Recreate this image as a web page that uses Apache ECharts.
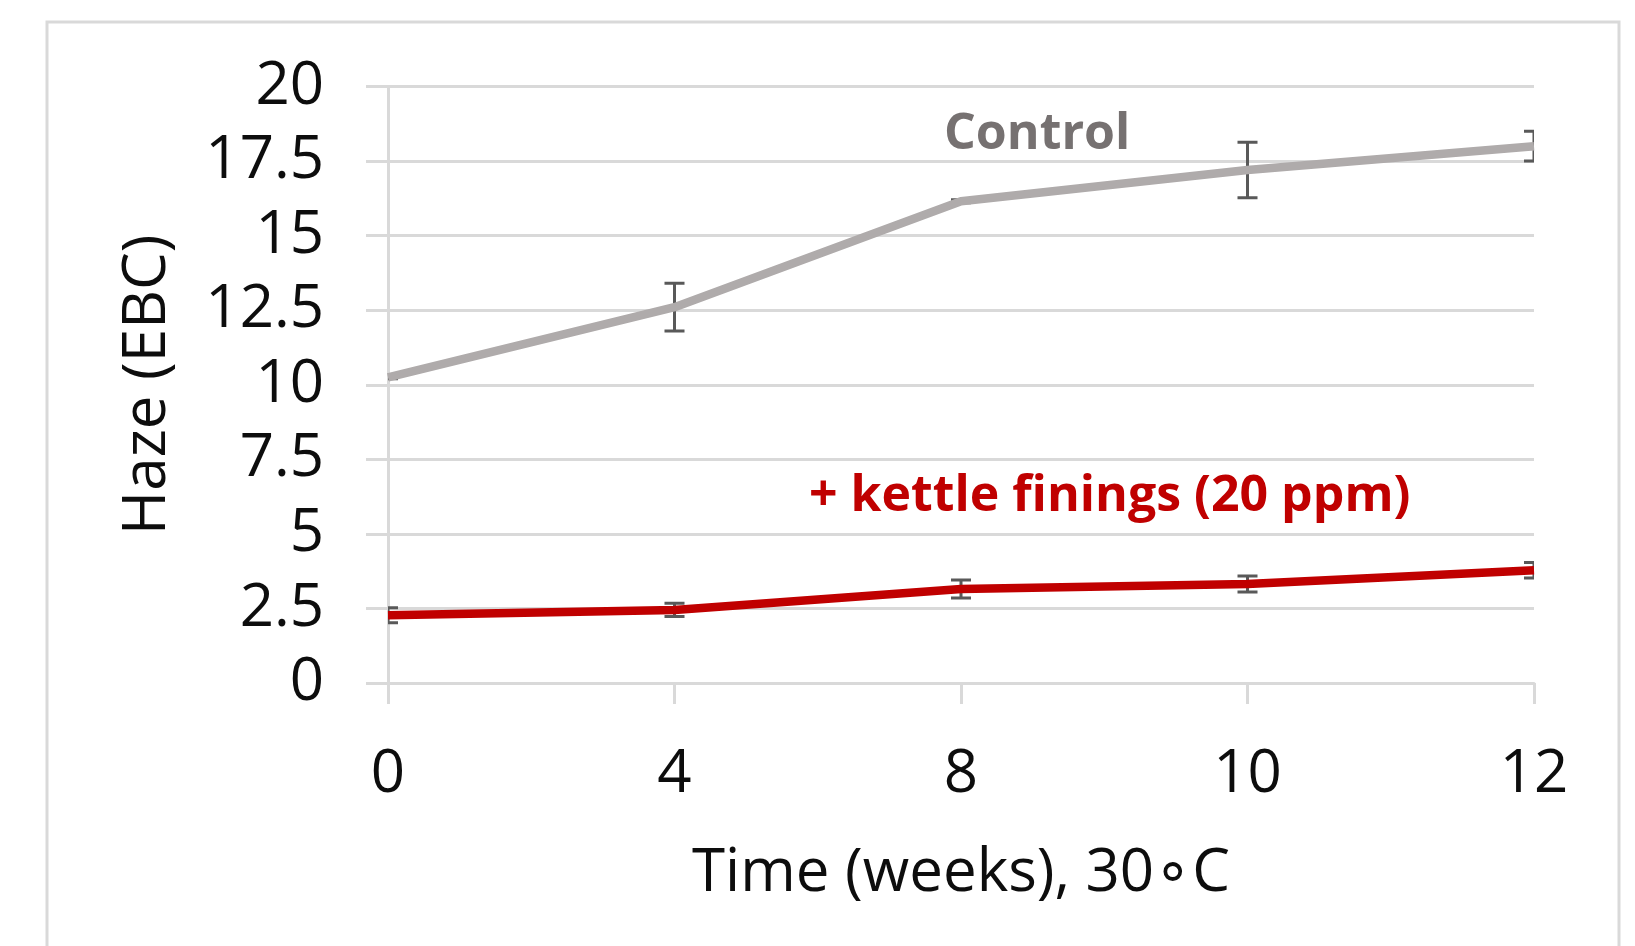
<!DOCTYPE html>
<html>
<head>
<meta charset="utf-8">
<script src="https://cdn.jsdelivr.net/npm/echarts@6/dist/echarts.min.js"></script>
<style>
  html, body { margin: 0; padding: 0; background: #fff; }
  #chart { width: 1635px; height: 946px; }
</style>
</head>
<body>
<div id="chart"></div>
<script>
// weeks at 30 °C
const weeks = ['0', '4', '8', '10', '12']
// haze values (EBC)
const controlHaze = [10.25, 12.6, 16.15, 17.2, 18.0]
const finingsHaze = [2.27, 2.45, 3.15, 3.32, 3.78]
// +/- error
const controlErr = [0.05, 0.8, 0.05, 0.93, 0.5]
const finingsErr = [0.25, 0.22, 0.3, 0.27, 0.26]

const font = 'Open Sans'
const gridColor = '#d9d9d9'

const toBars = (vals, errs) => vals.map((v, i) => [i, v - errs[i], v + errs[i]])

function errorBars(params, api) {
  const low = api.coord([api.value(0), api.value(1)])
  const high = api.coord([api.value(0), api.value(2)])
  const hw = 10
  const style = { stroke: '#595959', lineWidth: 3 }
  return {
    type: 'group',
    children: [
      { type: 'line', shape: { x1: low[0], y1: low[1], x2: high[0], y2: high[1] }, style },
      { type: 'line', shape: { x1: low[0] - hw, y1: low[1], x2: low[0] + hw, y2: low[1] }, style },
      { type: 'line', shape: { x1: high[0] - hw, y1: high[1], x2: high[0] + hw, y2: high[1] }, style }
    ]
  }
}

const myChart = echarts.init(document.getElementById('chart'))
const option = {
  animation: false,
  textStyle: { fontFamily: font },
  grid: {
    left: 388,
    right: 101,
    top: 86.5,
    bottom: 263
  },
  xAxis: {
    type: 'category',
    data: weeks,
    boundaryGap: false,
    name: 'Time (weeks), 30∘C',
    nameLocation: 'middle',
    nameGap: 161,
    nameTextStyle: { fontSize: 60, color: '#0d0d0d', fontFamily: font, lineHeight: 60 },
    axisLine: { lineStyle: { color: gridColor, width: 3 } },
    axisTick: { show: true, length: 21, lineStyle: { color: gridColor, width: 3 } },
    axisLabel: { margin: 62, fontSize: 60, color: '#0d0d0d', fontFamily: font, lineHeight: 60 },
    splitLine: { show: false }
  },
  yAxis: {
    type: 'value',
    min: 0,
    max: 20,
    interval: 2.5,
    name: 'Haze (EBC)',
    nameLocation: 'middle',
    nameGap: 210,
    nameTextStyle: { fontSize: 60, color: '#0d0d0d', fontFamily: font, lineHeight: 60 },
    axisLine: { show: true, lineStyle: { color: gridColor, width: 3 } },
    axisTick: { show: true, length: 22, lineStyle: { color: gridColor, width: 3 } },
    axisLabel: { margin: 64, fontSize: 60, color: '#0d0d0d', fontFamily: font },
    splitLine: { lineStyle: { color: gridColor, width: 3 } }
  },
  graphic: [
    {
      type: 'rect',
      shape: { x: 47, y: 22, width: 1572, height: 960 },
      style: { fill: 'none', stroke: gridColor, lineWidth: 3 },
      silent: true
    },
    {
      type: 'text',
      left: 944,
      top: 110,
      style: { text: 'Control', font: 'bold 50px "Open Sans"', fill: '#767171' }
    },
    {
      type: 'text',
      left: 809,
      top: 472,
      style: { text: '+ kettle finings (20 ppm)', font: 'bold 50px "Open Sans"', fill: '#C00000' }
    }
  ],
  series: [
    {
      name: 'Control err',
      type: 'custom',
      renderItem: errorBars,
      clip: true,
      z: 2,
      data: toBars(controlHaze, controlErr)
    },
    {
      name: 'Finings err',
      type: 'custom',
      renderItem: errorBars,
      clip: true,
      z: 2,
      data: toBars(finingsHaze, finingsErr)
    },
    {
      name: 'Control',
      type: 'line',
      showSymbol: false,
      z: 3,
      lineStyle: { color: '#AFABAB', width: 8.5 },
      data: controlHaze
    },
    {
      name: '+ kettle finings (20 ppm)',
      type: 'line',
      showSymbol: false,
      z: 3,
      lineStyle: { color: '#C00000', width: 8.5 },
      data: finingsHaze
    }
  ]
}
myChart.setOption(option)
</script>
</body>
</html>
